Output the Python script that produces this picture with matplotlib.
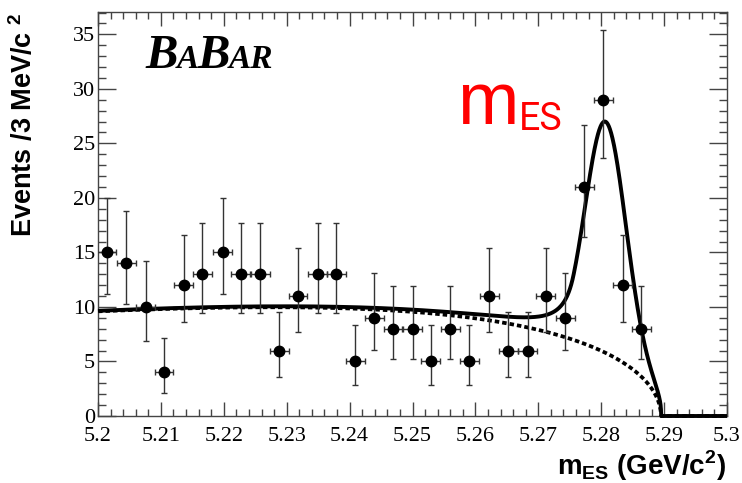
import numpy as np
import matplotlib
matplotlib.use('Agg')
from matplotlib import pyplot as plt
from matplotlib.ticker import MultipleLocator

# measured points: bin centre (GeV/c^2), events per 3 MeV bin, asymmetric errors
mes = [5.2014, 5.2045, 5.2076, 5.2105, 5.2136, 5.2166, 5.2198, 5.2227, 5.2258, 5.2288,
       5.2318, 5.2349, 5.2379, 5.2409, 5.2439, 5.2469, 5.2500, 5.2529, 5.2560, 5.2590,
       5.2622, 5.2652, 5.2683, 5.2712, 5.2743, 5.2773, 5.2803, 5.2834, 5.2864]
events = [15, 14, 10, 4, 12, 13, 15, 13, 13, 6, 11, 13, 13, 5, 9,
          8, 8, 5, 8, 5, 11, 6, 6, 11, 9, 21, 29, 12, 8]
err_lo = [3.83, 3.70, 3.11, 1.91, 3.42, 3.56, 3.83, 3.56, 3.56, 2.38, 3.27, 3.56, 3.56, 2.16, 2.94,
          2.77, 2.77, 2.16, 2.77, 2.16, 3.27, 2.38, 2.38, 3.27, 2.94, 4.55, 5.36, 3.42, 2.77]
err_hi = [4.96, 4.83, 4.26, 3.16, 4.56, 4.70, 4.96, 4.70, 4.70, 3.58, 4.42, 4.70, 4.70, 3.38, 4.11,
          3.94, 3.94, 3.38, 3.94, 3.38, 4.42, 3.58, 3.58, 4.42, 4.11, 5.66, 6.44, 4.56, 3.94]
bin_half = 0.0015

# fit result: ARGUS background + Crystal Ball signal
argus_m0 = 5.2895
argus_c = -21.0
bkg_at_low_edge = 9.6
sig_mean = 5.2807
sig_sigma = 0.0032
sig_alpha = 1.6
sig_n = 1.5
sig_peak = 21.2

W, H = 742, 483


def argus(m):
    t = np.clip(1 - (m / argus_m0) ** 2, 0, None)
    return m * np.sqrt(t) * np.exp(argus_c * t)


def background(m):
    return bkg_at_low_edge * argus(m) / argus(np.array(5.2))


def signal(m):
    t = (m - sig_mean) / sig_sigma
    a = (sig_n / sig_alpha) ** sig_n * np.exp(-sig_alpha ** 2 / 2)
    b = sig_n / sig_alpha - sig_alpha
    tail = a / np.abs(b - np.minimum(t, -sig_alpha)) ** sig_n
    return sig_peak * np.where(t > -sig_alpha, np.exp(-t ** 2 / 2), tail)


fig = plt.figure(figsize=(W / 100, H / 100), dpi=100)
ax = fig.add_axes([98 / W, 67 / H, 629 / W, 404 / H])

m = np.linspace(5.2, 5.3, 2000)
bkg = background(m)
tot = np.where(m < argus_m0, bkg + signal(m), 0.0)

ax.plot(m, tot, color='k', lw=2.8, zorder=3, clip_on=False, solid_capstyle='butt')
ax.plot(m, bkg, color='k', lw=2.7, ls=(0, (1.2, 0.8)), zorder=2, clip_on=False,
        dash_capstyle='butt')

ax.errorbar(mes, events, xerr=bin_half, yerr=[err_lo, err_hi], fmt='o', color='k',
            ecolor='#333333', elinewidth=1.0, capsize=2.2, capthick=1.0, markersize=7.5,
            zorder=4)

ax.set_xlim(5.2, 5.3)
ax.set_ylim(0, 37.05)
ax.xaxis.set_major_locator(MultipleLocator(0.01))
ax.xaxis.set_minor_locator(MultipleLocator(0.002))
ax.yaxis.set_major_locator(MultipleLocator(5))
ax.yaxis.set_minor_locator(MultipleLocator(1))
ax.xaxis.set_major_formatter(plt.FuncFormatter(lambda v, p: ('%.2f' % v).rstrip('0').rstrip('.')))

ax.tick_params(which='both', direction='in', top=True, right=True, color='#444444', width=1.0)
ax.tick_params(axis='x', which='major', length=10, pad=8)
ax.tick_params(axis='x', which='minor', length=5)
ax.tick_params(axis='y', which='major', length=13, pad=2)
ax.tick_params(axis='y', which='minor', length=6)
for lab in ax.get_xticklabels() + ax.get_yticklabels():
    lab.set_fontfamily('Liberation Serif')
    lab.set_fontsize(16)
for sp in ax.spines.values():
    sp.set_color('#444444')
    sp.set_linewidth(1.0)

plt.rcParams['mathtext.fontset'] = 'custom'
plt.rcParams['mathtext.rm'] = 'Liberation Sans:bold'
plt.rcParams['mathtext.bf'] = 'Liberation Sans:bold'

fig.text(38 / W, 1 - 12 / H, r'Events /3 MeV/c $^{2}$', rotation=90, ha='right', va='top',
         fontsize=19.5, fontweight='bold', family='Liberation Sans')
fig.text(726 / W, 8 / H, r'm$_{\mathrm{ES}}$ (GeV/c$^{2}$)', ha='right', va='baseline',
         fontsize=20, fontweight='bold', family='Liberation Sans')

# BaBar logo: bold italic serif with small capitals
renderer = fig.canvas.get_renderer()
x = 145.0
for part, size in [('B', 35), ('A', 24), ('B', 35), ('AR', 24)]:
    t = fig.text(x / W, (H - 68) / H, part, fontsize=size, family='Liberation Serif',
                 fontweight='bold', style='italic', va='baseline', ha='left')
    x = t.get_window_extent(renderer).x1 - 1

# red mES label
t = fig.text(457 / W, (H - 124) / H, 'm', fontsize=53, color='#ff0000',
             family='Liberation Sans', va='baseline', ha='left')
x = t.get_window_extent(renderer).x1
fig.text(x / W, (H - 130) / H, 'ES', fontsize=27, color='#ff0000',
         family='Roboto', va='baseline', ha='left')

fig.savefig('out.png', dpi=100)
